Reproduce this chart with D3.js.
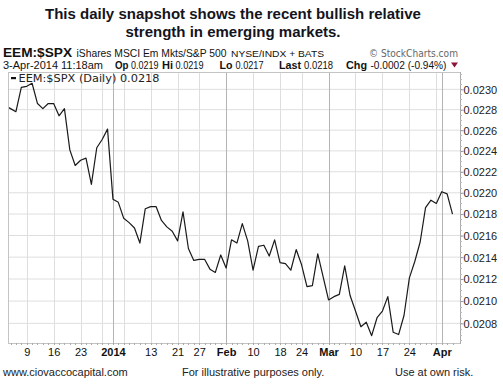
<!DOCTYPE html>
<html><head><meta charset="utf-8">
<script src="https://cdn.jsdelivr.net/npm/d3@7"></script>
<style>
html,body{margin:0;padding:0;background:#fff;}
svg{display:block;font-family:"Liberation Sans",Arial,sans-serif;}
</style></head>
<body>
<svg id="c" width="503" height="384"></svg>
<script>
const dates = [
 "2013-12-03","2013-12-04","2013-12-05","2013-12-06","2013-12-09","2013-12-10","2013-12-11","2013-12-12","2013-12-13","2013-12-16",
 "2013-12-17","2013-12-18","2013-12-19","2013-12-20","2013-12-23","2013-12-24","2013-12-26","2013-12-27","2013-12-30","2013-12-31",
 "2014-01-02","2014-01-03","2014-01-06","2014-01-07","2014-01-08","2014-01-09","2014-01-10","2014-01-13","2014-01-14","2014-01-15",
 "2014-01-16","2014-01-17","2014-01-21","2014-01-22","2014-01-23","2014-01-24","2014-01-27","2014-01-28","2014-01-29","2014-01-30","2014-01-31",
 "2014-02-03","2014-02-04","2014-02-05","2014-02-06","2014-02-07","2014-02-10","2014-02-11","2014-02-12","2014-02-13","2014-02-14",
 "2014-02-18","2014-02-19","2014-02-20","2014-02-21","2014-02-24","2014-02-25","2014-02-26","2014-02-27","2014-02-28",
 "2014-03-03","2014-03-04","2014-03-05","2014-03-06","2014-03-07","2014-03-10","2014-03-11","2014-03-12","2014-03-13","2014-03-14",
 "2014-03-17","2014-03-18","2014-03-19","2014-03-20","2014-03-21","2014-03-24","2014-03-25","2014-03-26","2014-03-27","2014-03-28","2014-03-31",
 "2014-04-01","2014-04-02","2014-04-03"
];
const values = [
 0.02284,0.02281,0.02278,0.02302,0.02303,0.02306,0.02286,0.02281,0.02286,0.02286,
 0.02274,0.02281,0.02241,0.02226,0.02231,0.02233,0.02208,0.02243,0.02251,0.02261,
 0.02194,0.02191,0.02176,0.02172,0.02167,0.02153,0.02185,0.02187,0.02187,0.02174,
 0.02168,0.02164,0.02155,0.02182,0.02148,0.02137,0.02138,0.02138,0.02129,0.02126,0.02142,
 0.02130,0.02156,0.02153,0.02171,0.02155,0.02128,0.02150,0.02151,0.02141,0.02156,
 0.02135,0.02134,0.02128,0.02147,0.02133,0.02113,0.02114,0.02143,0.02122,
 0.02101,0.02104,0.02106,0.02132,0.02105,0.02091,0.02077,0.02081,0.02069,0.02085,
 0.02091,0.02104,0.02072,0.02070,0.02087,0.02121,0.02136,0.02154,0.02186,0.02193,0.02190,
 0.02201,0.02199,0.02180
];
const gridDates = ["2013-12-09","2013-12-16","2013-12-23","2013-12-30","2014-01-02","2014-01-06","2014-01-13","2014-01-21","2014-01-27",
 "2014-02-03","2014-02-10","2014-02-18","2014-02-24","2014-03-03","2014-03-10","2014-03-17","2014-03-24","2014-03-31","2014-04-01"];
const monthDates = ["2014-01-02","2014-02-03","2014-03-03","2014-04-01"];
const tickDates = ["2013-12-09","2013-12-16","2013-12-23","2014-01-02","2014-01-13","2014-01-21","2014-01-27","2014-02-03","2014-02-10",
 "2014-02-18","2014-02-24","2014-03-03","2014-03-10","2014-03-17","2014-03-24","2014-04-01"];
const tickLabels = ["9","16","23","2014","13","21","27","Feb","10","18","24","Mar","10","17","24","Apr"];
const yTicks = [0.0208,0.0210,0.0212,0.0214,0.0216,0.0218,0.0220,0.0222,0.0224,0.0226,0.0228,0.0230];
const quoteLabels = ["Op","Hi","Lo","Last","Chg"];
const quoteValues = ["0.0219","0.0219","0.0217","0.0218","-0.0002 (-0.94%)"];

const svg = d3.select("#c");
const L=8, R=460, T=72, B=343;

const x = d3.scalePoint().domain(dates).range([5.14, 452.5]);
const y = d3.scaleLog().domain([0.020625, 0.023172]).range([B, T]);

// titles
svg.append("text").attr("x",233).attr("y",18.5).attr("text-anchor","middle")
  .attr("font-size",15).attr("font-weight","bold").attr("fill","#141420")
  .text("This daily snapshot shows the recent bullish relative");
svg.append("text").attr("x",233).attr("y",37).attr("text-anchor","middle")
  .attr("font-size",15).attr("font-weight","bold").attr("fill","#141420")
  .text("strength in emerging markets.");

// header
svg.append("text").attr("x",3).attr("y",57).attr("font-size",13.5).attr("font-weight","bold").attr("fill","#111")
  .attr("textLength",69).attr("lengthAdjust","spacingAndGlyphs").text("EEM:$SPX");
svg.append("text").attr("x",76.5).attr("y",57).attr("font-size",10.5).attr("fill","#111")
  .attr("textLength",150).attr("lengthAdjust","spacingAndGlyphs").text("iShares MSCI Em Mkts/S&P 500");
svg.append("text").attr("x",231).attr("y",57).attr("font-size",9.5).attr("fill","#111")
  .attr("textLength",93).attr("lengthAdjust","spacingAndGlyphs").text("NYSE/INDX + BATS");
svg.append("text").attr("x",369).attr("y",57).attr("font-size",10).attr("fill","#666")
  .attr("font-family","DejaVu Sans").attr("textLength",89).attr("lengthAdjust","spacingAndGlyphs").text("© StockCharts.com");

svg.append("text").attr("x",3).attr("y",68.5).attr("font-size",10.5).attr("fill","#111")
  .attr("textLength",100).attr("lengthAdjust","spacingAndGlyphs").text("3-Apr-2014 11:18am");
const labX = [115,162,219.5,279,346], labW = [13.5,11,13,22,21];
const valX = [131,175.5,235.5,304,370.5], valW = [27.5,28,28,29,76];
quoteLabels.forEach((s,i)=>{
  svg.append("text").attr("x",labX[i]).attr("y",68.5).attr("font-size",11).attr("font-weight","bold").attr("fill","#111")
    .attr("textLength",labW[i]).attr("lengthAdjust","spacingAndGlyphs").text(s);
  svg.append("text").attr("x",valX[i]).attr("y",68.5).attr("font-size",10).attr("fill","#111")
    .attr("textLength",valW[i]).attr("lengthAdjust","spacingAndGlyphs").text(quoteValues[i]);
});
svg.append("path").attr("d","M451,62.5 L458,62.5 L454.5,67.5 Z").attr("fill","#8a1538");

// plot background gridlines
const g = svg.append("g");
g.selectAll(".hg").data(yTicks).join("line")
  .attr("x1",L).attr("x2",R).attr("y1",d=>y(d)).attr("y2",d=>y(d))
  .attr("stroke","#dedede").attr("stroke-width",1);
g.selectAll(".vg").data(gridDates).join("line")
  .attr("x1",d=>Math.round(x(d))+0.5).attr("x2",d=>Math.round(x(d))+0.5).attr("y1",T).attr("y2",B)
  .attr("stroke",d=>monthDates.includes(d)?"#b4b4b4":"#dedede").attr("stroke-width",1);

// border
svg.append("rect").attr("x",L+0.5).attr("y",T+0.5).attr("width",R-L).attr("height",B-T)
  .attr("fill","none").attr("stroke","#c4c4c4");
svg.append("line").attr("x1",R+0.5).attr("x2",R+0.5).attr("y1",T).attr("y2",B+1).attr("stroke","#aaa");

// minor ticks bottom
svg.selectAll(".bt").data(dates).join("line")
  .attr("x1",d=>Math.round(x(d))+0.5).attr("x2",d=>Math.round(x(d))+0.5).attr("y1",B).attr("y2",B+2)
  .attr("stroke","#aaa").style("display",d=>x(d)<L?"none":null);
// minor ticks right
const minor = d3.range(0,52).map(i=>0.02065+i*0.00005).filter(v=>y(v)>=T && y(v)<=B);
svg.selectAll(".rt").data(minor).join("line")
  .attr("x1",R).attr("x2",R+2).attr("y1",d=>Math.round(y(d))+0.5).attr("y2",d=>Math.round(y(d))+0.5).attr("stroke","#bbb");

// right axis
const ay = svg.append("g").attr("transform",`translate(${R+0.5},0)`)
  .call(d3.axisRight(y).tickValues(yTicks).tickFormat(d3.format(".4f")).tickSize(3).tickPadding(0));
ay.select(".domain").remove();
ay.selectAll("line").attr("stroke","#999");
ay.selectAll("text").attr("font-size",11).attr("font-family","Liberation Sans, Arial").attr("fill","#222").attr("dy","0.35em");

// x axis labels
const ax = svg.append("g").attr("transform",`translate(0,${B})`)
  .call(d3.axisBottom(x).tickValues(tickDates).tickFormat((d,i)=>tickLabels[i]).tickSize(0).tickPadding(5));
ax.select(".domain").remove();
ax.selectAll("text").attr("font-size",11).attr("font-family","Liberation Sans, Arial").attr("fill","#111")
  .attr("font-weight",(d)=>monthDates.includes(d)?"bold":"normal");

// line
svg.append("clipPath").attr("id","clp").append("rect").attr("x",L+1).attr("y",T).attr("width",R-L-1).attr("height",B-T);
const line = d3.line().x((d,i)=>x(dates[i])).y(d=>y(d));
svg.append("path").datum(values).attr("d",line).attr("fill","none").attr("stroke","#1a1a1a")
  .attr("stroke-width",1.2).attr("stroke-linejoin","round").attr("clip-path","url(#clp)");

// legend
svg.append("rect").attr("x",11).attr("y",77).attr("width",5).attr("height",2.2).attr("fill","#111");
svg.append("text").attr("x",18.5).attr("y",82).attr("font-size",10.5).attr("font-family","DejaVu Sans").attr("fill","#222")
  .attr("textLength",141).attr("lengthAdjust","spacingAndGlyphs").text("EEM:$SPX (Daily) 0.0218");

// footer
svg.append("text").attr("x",3).attr("y",376).attr("font-size",11).attr("fill","#222").text("www.ciovaccocapital.com");
svg.append("text").attr("x",182).attr("y",376).attr("font-size",11).attr("fill","#222").text("For illustrative purposes only.");
svg.append("text").attr("x",395).attr("y",376).attr("font-size",11).attr("fill","#222").text("Use at own risk.");
</script>
</body></html>
